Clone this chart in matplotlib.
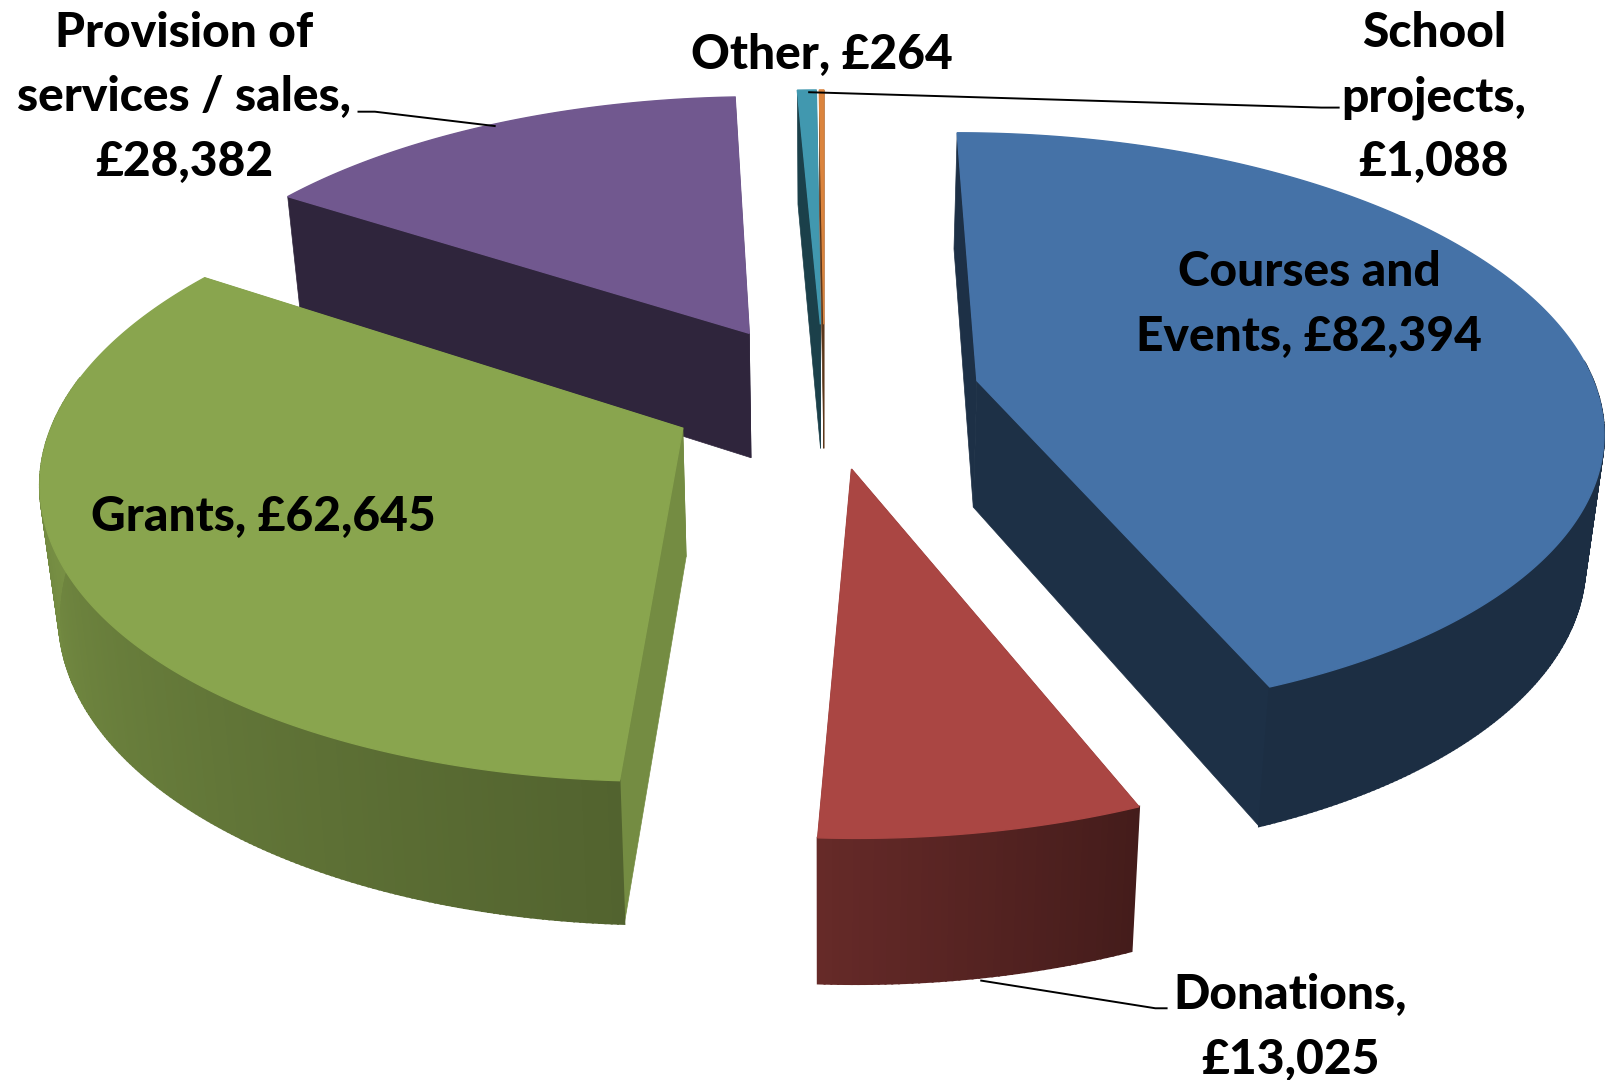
import numpy as np
import matplotlib
matplotlib.use('Agg')
import matplotlib.pyplot as plt
from matplotlib.colors import to_rgb

# Slices in the order Excel lays them out, clockwise from 12 o'clock
categories = ['Courses and Events', 'Donations', 'Grants',
              'Provision of services / sales', 'School projects', 'Other']
values = [82394, 13025, 62645, 28382, 1088, 264]
colors = ['#4572A7', '#AA4643', '#89A54E', '#71588F', '#4198AF', '#DB843D']
label_text = ['Courses and\nEvents, £82,394', 'Donations,\n£13,025', 'Grants, £62,645',
              'Provision of\nservices / sales,\n£28,382', 'School\nprojects,\n£1,088', 'Other, £264']

# Layout, in pixels of the 1568 wide working canvas
cx, cy = 805, 385
radius_x, radius_y = 606, 282
perspective = 0.15
depth = 127
depth_shrink = 0.024
explode = 0.252

plt.rcParams['font.family'] = ['Lato', 'DejaVu Sans']

fig = plt.figure(figsize=(16.06, 10.80), dpi=100)
ax = fig.add_axes([0, 0, 1, 1])
ax.set_xlim(0, 1568)
ax.set_ylim(1054, 0)
ax.axis('off')


def project(X, Y, Z=0.0):
    s = (1 - depth_shrink * Z) / (1 - perspective * np.asarray(Y))
    return cx + radius_x * np.asarray(X) * s, cy + s * (radius_y * np.asarray(Y) + depth * Z)


def shade(color, f):
    return tuple(c * f for c in to_rgb(color))


def wall_factor(angle):
    return np.interp(angle, [0, 158, 183, 270, 360], [0.40, 0.40, 0.60, 0.88, 0.88])


def draw_slice(i, start, end):
    color = colors[i]
    mid = np.radians((start + end) / 2)
    ox, oy = explode * np.sin(mid), -explode * np.cos(mid)
    n = max(int(end - start) * 2, 2)
    deg = np.linspace(start, end, n + 1)
    arc_x = ox + np.sin(np.radians(deg))
    arc_y = oy - np.cos(np.radians(deg))

    # flat sides running from the apex out to the rim
    side_f = 0.85 if i == 2 else 0.42
    for k in (0, -1):
        xs = np.array([ox, arc_x[k], arc_x[k], ox])
        ys = np.array([oy, arc_y[k], arc_y[k], oy])
        zs = np.array([0, 0, 1, 1])
        px, py = project(xs, ys, zs)
        ax.fill(px, py, color=shade(color, side_f), lw=0.5)

    # rim, split in strips so that the shading can change along it
    # only the part facing the viewer is drawn
    for j in range(n):
        a = (deg[j] + deg[j + 1]) / 2
        if a < 86 or a > 280:
            continue
        xs = np.array([arc_x[j], arc_x[j + 1], arc_x[j + 1], arc_x[j]])
        ys = np.array([arc_y[j], arc_y[j + 1], arc_y[j + 1], arc_y[j]])
        zs = np.array([0, 0, 1, 1])
        px, py = project(xs, ys, zs)
        ax.fill(px, py, color=shade(color, wall_factor(a)), lw=1.5)

    # top face
    px, py = project(np.r_[ox, arc_x], np.r_[oy, arc_y])
    ax.fill(px, py, color=color, lw=1.0)


edges = np.r_[0, np.cumsum(values)] / np.sum(values) * 360
for i in [3, 4, 5, 0, 1, 2]:
    draw_slice(i, edges[i], edges[i + 1])

# leader lines
ax.plot([1307, 1290, 790], [105, 105, 90], color='black', lw=1.4)
ax.plot([350, 366, 483], [109, 109, 123], color='black', lw=1.4)
ax.plot([1139, 1128, 958], [984, 984, 957], color='black', lw=1.4)

label_pos = [(1278, 297), (1260, 1003), (257, 505), (180, 95), (1400, 95), (802, 54)]
for text, (x, y) in zip(label_text, label_pos):
    ax.text(x, y, text, ha='center', va='center', fontsize=34.5, fontweight=900,
            color='black', linespacing=1.57)

fig.savefig('out.png', dpi=100)
